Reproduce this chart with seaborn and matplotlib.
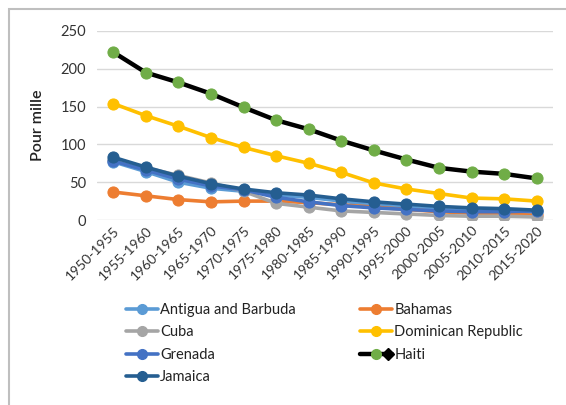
import matplotlib
matplotlib.use("Agg")
import matplotlib.pyplot as plt
import seaborn as sns
import numpy as np
import pandas as pd
from matplotlib.lines import Line2D
from matplotlib.patches import Rectangle
from matplotlib.legend_handler import HandlerLine2D

periods = ["1950-1955", "1955-1960", "1960-1965", "1965-1970", "1970-1975",
           "1975-1980", "1980-1985", "1985-1990", "1990-1995", "1995-2000",
           "2000-2005", "2005-2010", "2010-2015", "2015-2020"]

antigua = [77, 64, 50, 42, 38, 33, 30, 25, 20, 17, 14, 12, 11, 10]
bahamas = [37, 32, 27, 24, 25, 25, 23, 20, 17, 14, 11, 9, 8, 6]
cuba = [80, 69, 59, 49, 38, 22, 17, 12, 10, 8, 6, 5, 5, 4]
dominican = [154, 138, 124, 109, 96, 85, 75, 63, 49, 41, 35, 29, 28, 25]
grenada = [78, 66, 54, 45, 40, 30, 24, 19, 16, 14, 12, 11, 11, 12]
haiti = [222, 195, 182, 167, 149, 132, 120, 105, 92, 80, 69, 64, 61, 55]
jamaica = [83, 70, 58, 48, 41, 36, 33, 28, 24, 21, 18, 16, 15, 13]

series = [
    ("Antigua and Barbuda", antigua, "#5B9BD5", "#5B9BD5"),
    ("Bahamas", bahamas, "#ED7D31", "#ED7D31"),
    ("Cuba", cuba, "#A5A5A5", "#A5A5A5"),
    ("Dominican Republic", dominican, "#FFC000", "#FFC000"),
    ("Grenada", grenada, "#4472C4", "#4472C4"),
    ("Haiti", haiti, "#000000", "#70AD47"),
    ("Jamaica", jamaica, "#255E91", "#255E91"),
]

sns.set_theme(style="white")
plt.rcParams["font.family"] = ["Lato", "DejaVu Sans"]

fig = plt.figure(figsize=(5.66, 4.05), dpi=100)
ax = fig.add_axes([97/566, 1-220/405, (553-97)/566, (220-31)/405])

x = np.arange(len(periods))
handles = {}
for name, vals, lc, mc in series:
    df = pd.DataFrame({"x": x, "y": vals})
    lw = 3.2 if name == "Haiti" else 2.6
    sns.lineplot(data=df, x="x", y="y", ax=ax, color=lc, linewidth=lw,
                 marker="o", markersize=8, markerfacecolor=mc,
                 markeredgecolor=mc, legend=False)
    handles[name] = Line2D([0], [0], color=lc, lw=lw, marker="o",
                           markersize=7, markerfacecolor=mc, markeredgecolor=mc)


class HaitiHandler(HandlerLine2D):
    def create_artists(self, legend, orig_handle, xdescent, ydescent,
                       width, height, fontsize, trans):
        arts = super().create_artists(legend, orig_handle, xdescent, ydescent,
                                      width, height, fontsize, trans)
        d = Line2D([width - xdescent - 3], [height / 2 - ydescent],
                   marker="D", markersize=6, color="black", ls="none",
                   transform=trans)
        return list(arts) + [d]


ax.set_xlim(-0.5, len(periods) - 0.5)
ax.set_ylim(0, 250)
ax.set_yticks([0, 50, 100, 150, 200, 250])
ax.set_xticks(x)
ax.set_xticklabels(periods, rotation=45, ha="right", rotation_mode="anchor",
                   fontsize=10, color="#333333")
ax.tick_params(axis="y", labelsize=10.5, colors="#333333", length=0, pad=8)
ax.tick_params(axis="x", length=0, pad=3)
ax.grid(axis="y", color="#D9D9D9", linewidth=1)
ax.set_axisbelow(True)
for s in ax.spines.values():
    s.set_visible(False)
ax.set_xlabel("")
ax.set_ylabel("Pour mille", fontsize=11.5, color="#222222", labelpad=11,
              fontweight="semibold")

col1 = ["Antigua and Barbuda", "Cuba", "Grenada", "Jamaica"]
col2 = ["Bahamas", "Dominican Republic", "Haiti"]
common = dict(frameon=False, fontsize=10.5, handlelength=2.2, handletextpad=0.15,
              labelspacing=0.58, borderaxespad=0, borderpad=0,
              labelcolor="#222222")
fig.legend([handles[n] for n in col1], col1, loc="upper left",
           bbox_to_anchor=(126/566, 1-303/405), **common)
fig.legend([handles[n] for n in col2], col2, loc="upper left",
           bbox_to_anchor=(360/566, 1-303/405),
           handler_map={handles["Haiti"]: HaitiHandler()}, **common)

fig.patches.append(Rectangle((9/566, -0.1), 1.1, 1 - 9/405 + 0.1,
                             transform=fig.transFigure, fill=False,
                             edgecolor="#BFBFBF", linewidth=1.5))

fig.savefig("out.png", dpi=100)
